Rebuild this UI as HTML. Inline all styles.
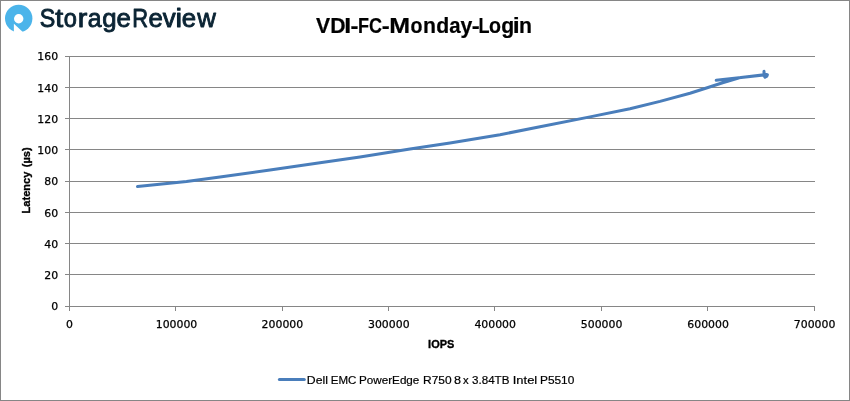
<!DOCTYPE html>
<html lang="en">
<head>
<meta charset="utf-8">
<title>VDI-FC-Monday-Login</title>
<style>
html,body{margin:0;padding:0;background:#fff;}
body{width:850px;height:401px;overflow:hidden;}
svg{display:block;}
.ax{font-family:"DejaVu Sans","Liberation Sans",sans-serif;font-size:10.9px;fill:#000;stroke:#000;stroke-width:0.25px;}
.b{font-family:"Liberation Sans",sans-serif;font-weight:bold;fill:#000;}
.r{font-family:"Liberation Sans",sans-serif;fill:#000;}
</style>
</head>
<body>
<svg width="850" height="401" viewBox="0 0 850 401">
<rect x="0" y="0" width="850" height="401" fill="#fff"/>
<rect x="0.5" y="0.5" width="849" height="400" fill="none" stroke="#868686" stroke-width="1" shape-rendering="crispEdges"/>

<!-- logo -->
<g id="logo">
<circle cx="18.7" cy="18.5" r="13.7" fill="#4bb4ea"/>
<circle cx="18.7" cy="18.7" r="4.7" fill="#fff"/>
<path d="M13.9 23.7 L13.9 33 L23.9 33 Z" fill="#fff"/>
<text y="27.3" font-family="'Liberation Sans',sans-serif" font-size="25.8" fill="#0b2434" stroke="#0b2434" stroke-width="0.9" stroke-linejoin="round"><tspan x="39.78" textLength="15.52" lengthAdjust="spacingAndGlyphs">S</tspan><tspan x="55.25" textLength="7.97" lengthAdjust="spacingAndGlyphs">t</tspan><tspan x="63.77" textLength="13.16" lengthAdjust="spacingAndGlyphs">o</tspan><tspan x="77.66" textLength="9.56" lengthAdjust="spacingAndGlyphs">r</tspan><tspan x="87.70" textLength="13.79" lengthAdjust="spacingAndGlyphs">a</tspan><tspan x="102.28">g</tspan><tspan x="116.53">e</tspan><tspan x="132.26" textLength="15.84" lengthAdjust="spacingAndGlyphs">R</tspan><tspan x="148.48">e</tspan><tspan x="162.86">v</tspan><tspan x="175.60" textLength="6.59" lengthAdjust="spacingAndGlyphs">i</tspan><tspan x="181.82">e</tspan><tspan x="197.34">w</tspan></text>
</g>

<!-- title -->
<text class="b" y="32.8" font-size="21.2" stroke="#000" stroke-width="0.2"><tspan x="315.99">V</tspan><tspan x="330.16">D</tspan><tspan x="344.36" textLength="6.95" lengthAdjust="spacingAndGlyphs">I</tspan><tspan x="350.51" textLength="7.95" lengthAdjust="spacingAndGlyphs">-</tspan><tspan x="357.96" textLength="11.01" lengthAdjust="spacingAndGlyphs">F</tspan><tspan x="369.06" textLength="13.02" lengthAdjust="spacingAndGlyphs">C</tspan><tspan x="381.76" textLength="7.95" lengthAdjust="spacingAndGlyphs">-</tspan><tspan x="389.18" textLength="20.83" lengthAdjust="spacingAndGlyphs">M</tspan><tspan x="410.54" textLength="11.98" lengthAdjust="spacingAndGlyphs">o</tspan><tspan x="423.05">n</tspan><tspan x="436.21">d</tspan><tspan x="449.22" textLength="11.32" lengthAdjust="spacingAndGlyphs">a</tspan><tspan x="460.46">y</tspan><tspan x="471.76" textLength="7.95" lengthAdjust="spacingAndGlyphs">-</tspan><tspan x="478.61" textLength="11.01" lengthAdjust="spacingAndGlyphs">L</tspan><tspan x="488.99" textLength="11.98" lengthAdjust="spacingAndGlyphs">o</tspan><tspan x="501.31">g</tspan><tspan x="512.68" textLength="6.95" lengthAdjust="spacingAndGlyphs">i</tspan><tspan x="519.00">n</tspan></text>

<!-- gridlines -->
<g stroke="#868686" stroke-width="1" shape-rendering="crispEdges" fill="none">
<path d="M65 56.5H815 M65 87.5H815 M65 118.5H815 M65 149.5H815 M65 181.5H815 M65 212.5H815 M65 243.5H815 M65 274.5H815 M65 306.5H815"/>
<path d="M69.5 56V311 M175.5 306V311 M282.5 306V311 M388.5 306V311 M494.5 306V311 M601.5 306V311 M707.5 306V311 M814.5 306V311"/>
</g>

<!-- y labels -->
<g class="ax" text-anchor="end">
<text x="58.1" y="60">160</text>
<text x="58.1" y="92">140</text>
<text x="58.1" y="123">120</text>
<text x="58.1" y="154">100</text>
<text x="58.1" y="185">80</text>
<text x="58.1" y="217">60</text>
<text x="58.1" y="248">40</text>
<text x="58.1" y="279">20</text>
<text x="58.1" y="310">0</text>
</g>
<!-- x labels -->
<g class="ax" text-anchor="middle">
<text x="69.5" y="328">0</text>
<text x="176.5" y="328">100000</text>
<text x="282.4" y="328">200000</text>
<text x="388.8" y="328">300000</text>
<text x="495.2" y="328">400000</text>
<text x="601.6" y="328">500000</text>
<text x="708.1" y="328">600000</text>
<text x="814.6" y="328">700000</text>
</g>

<!-- axis titles -->
<text class="b" font-size="11.4" stroke="#000" stroke-width="0.35" transform="rotate(-90)" y="30"><tspan x="-213.41" textLength="41.81" lengthAdjust="spacingAndGlyphs">Latency</tspan> <tspan x="-167.26" textLength="19.80" lengthAdjust="spacingAndGlyphs">(µs)</tspan></text>
<text class="b" font-size="11.4" stroke="#000" stroke-width="0.35" y="348"><tspan x="428.10" textLength="26.21" lengthAdjust="spacingAndGlyphs">IOPS</tspan></text>

<!-- series -->
<path d="M137.5 186.5 L186.5 181.5 L220 177.1 L270 170 L320 162.7 L360 157 L410 149.1 L450 142.9 L500 134.7 L540 126.8 L590 116.9 L630 108.8 L660 101.4 L690 93.2 L708 87.5 L722.6 82.8 L741 77.4 L764 74.8 L764 71.3 L764.2 74 L767.4 74.6 L766.8 76.2 L765 77.3 L764 75 L716.2 80.3" fill="none" stroke="#4a7ebb" stroke-width="3" stroke-linecap="round" stroke-linejoin="round"/>

<!-- legend -->
<path d="M279.4 379.5H304.3" stroke="#4a7ebb" stroke-width="3" stroke-linecap="round" fill="none"/>
<text class="r" font-size="11.6" stroke="#000" stroke-width="0.2" y="384"><tspan x="306.88" textLength="21.11" lengthAdjust="spacingAndGlyphs">Dell</tspan> <tspan x="330.73" textLength="25.66" lengthAdjust="spacingAndGlyphs">EMC</tspan> <tspan x="359.07" textLength="60.29" lengthAdjust="spacingAndGlyphs">PowerEdge</tspan> <tspan x="423.00" textLength="28.56" lengthAdjust="spacingAndGlyphs">R750</tspan> <tspan x="454.09" textLength="7.02" lengthAdjust="spacingAndGlyphs">8</tspan> <tspan x="463.00" textLength="5.64" lengthAdjust="spacingAndGlyphs">x</tspan> <tspan x="472.02" textLength="37.39" lengthAdjust="spacingAndGlyphs">3.84TB</tspan> <tspan x="512.78" textLength="24.49" lengthAdjust="spacingAndGlyphs">Intel</tspan> <tspan x="540.00" textLength="34.32" lengthAdjust="spacingAndGlyphs">P5510</tspan></text>
</svg>
</body>
</html>
